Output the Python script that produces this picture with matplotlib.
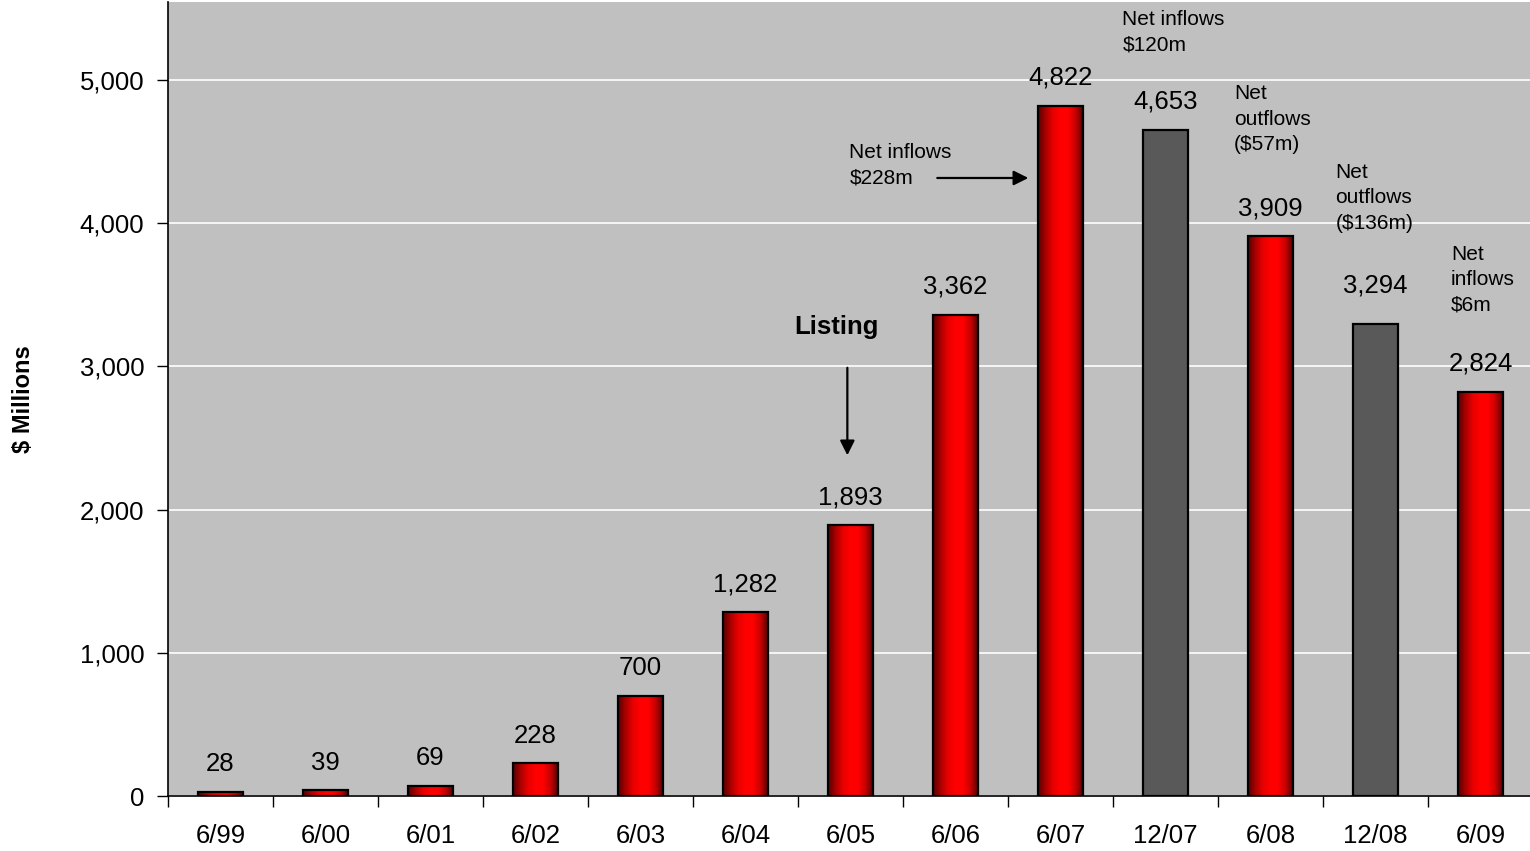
import numpy as np
import matplotlib.pyplot as plt
from matplotlib.colors import LinearSegmentedColormap

plt.rcParams['font.family'] = ['Liberation Sans', 'DejaVu Sans']

# data
periods = ['6/99', '6/00', '6/01', '6/02', '6/03', '6/04', '6/05',
           '6/06', '6/07', '12/07', '6/08', '12/08', '6/09']
funds = [28, 39, 69, 228, 700, 1282, 1893, 3362, 4822, 4653, 3909, 3294, 2824]
half_year = ['12/07', '12/08']

flow_notes = ['Net inflows\n$228m', 'Net inflows\n$120m', 'Net\noutflows\n($57m)',
              'Net\noutflows\n($136m)', 'Net\ninflows\n$6m']
note_x = [5.99, 8.59, 9.65, 10.62, 11.72]
note_y = [4560, 5490, 4970, 4420, 3850]

fig = plt.figure(figsize=(15.3, 8.51), dpi=100)
ax = fig.add_axes([168 / 1530, 1 - 796 / 851, 1365 / 1530, 794 / 851])
ax.set_facecolor('#C0C0C0')

x = np.arange(len(periods))
width = 0.42
ymax = 5545

# red cylinder-like gradient across each bar
red_cmap = LinearSegmentedColormap.from_list(
    'cyl', ['#580000', '#a80000', '#e80000', '#ff0000', '#ff0000', '#c80000', '#580000'])
grad = np.linspace(0, 1, 256).reshape(1, -1)

for xi, v, p in zip(x, funds, periods):
    if p in half_year:
        ax.bar(xi, v, width, color='#595959', edgecolor='black', linewidth=1.6, zorder=3)
    else:
        b = ax.bar(xi, v, width, color='#ff0000', edgecolor='none', zorder=2)[0]
        im = ax.imshow(grad, cmap=red_cmap, aspect='auto', zorder=2.5,
                       extent=[xi - width / 2, xi + width / 2, 0, v])
        im.set_clip_path(b)
        ax.bar(xi, v, width, color='none', edgecolor='black', linewidth=1.6, zorder=3)
    off = 28 if p == '12/08' else 20
    ax.annotate(f'{v:,}', (xi, v), xytext=(0, off), textcoords='offset points',
                ha='center', va='center', fontsize=18.5)

ax.set_xlim(-0.5, len(periods) - 0.5)
ax.set_ylim(0, ymax)

# gridlines
ax.set_yticks(range(0, 6000, 1000))
ax.set_yticklabels([f'{t:,}' for t in range(0, 6000, 1000)])
ax.yaxis.grid(True, color='white', linewidth=1.2, zorder=1)
ax.set_axisbelow(True)

ax.set_xticks(np.arange(-0.5, len(periods), 1.0))
ax.set_xticklabels([])
ax.set_xticks(x, minor=True)
ax.set_xticklabels(periods, minor=True)
ax.tick_params(axis='x', which='major', length=8, width=1, direction='out')
ax.tick_params(axis='x', which='minor', length=0, pad=20, labelsize=18.5)
ax.tick_params(axis='y', length=8, width=1, direction='out', pad=9, labelsize=18.5)

for s in ['top', 'right']:
    ax.spines[s].set_visible(False)
for s in ['left', 'bottom']:
    ax.spines[s].set_linewidth(1.2)

ax.set_ylabel('$ Millions', fontsize=17, fontweight='bold', labelpad=32)

# annotations
for t, nx, ny in zip(flow_notes, note_x, note_y):
    ax.text(nx, ny, t, fontsize=15, ha='left', va='top', linespacing=1.42)

ax.annotate('', xy=(7.72, 4316), xytext=(6.8, 4316),
            arrowprops=dict(arrowstyle='-|>', color='black', lw=1.6, mutation_scale=22))
ax.text(5.87, 3275, 'Listing', fontsize=18.5, fontweight='bold', ha='center', va='center')
ax.annotate('', xy=(5.97, 2360), xytext=(5.97, 3010),
            arrowprops=dict(arrowstyle='-|>', color='black', lw=1.6, mutation_scale=22))

fig.savefig('out.png', dpi=100)
